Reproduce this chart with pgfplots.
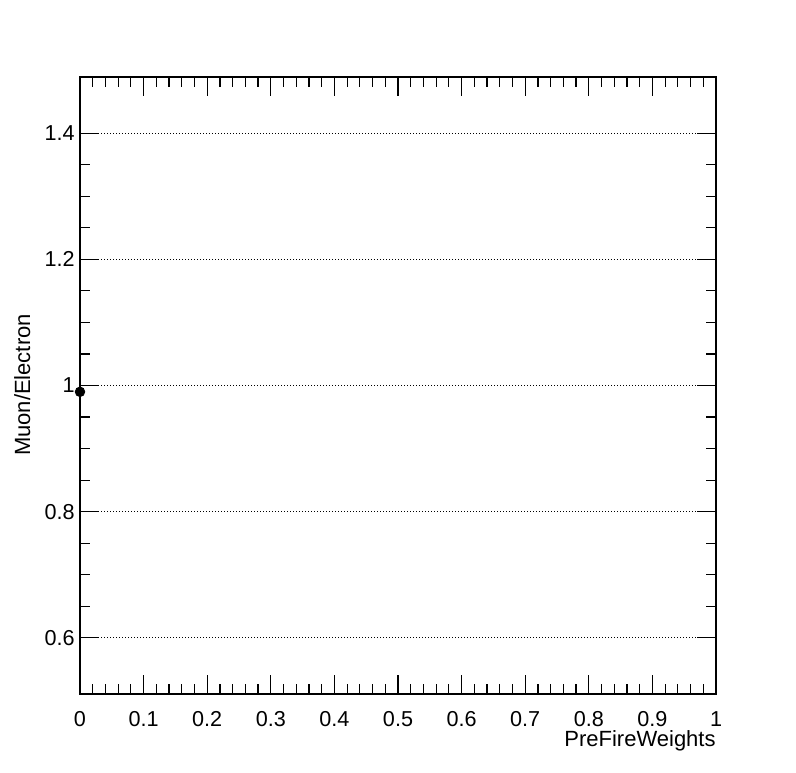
\documentclass[border=0pt]{standalone}
\usepackage{fontspec}
\setmainfont{Liberation Sans}
\usepackage{pgfplots}
\pgfplotsset{compat=1.18}
\begin{document}
\begin{tikzpicture}
\path[use as bounding box] (0,0) rectangle (398pt,386pt);
\begin{axis}[
  at={(40pt,39pt)}, anchor=south west,
  scale only axis, width=318pt, height=308.5pt,
  xmin=0, xmax=1, ymin=0.511, ymax=1.489,
  xtick={0,0.1,...,1.0001},
  ytick={0.6,0.8,1,1.2,1.4},
  minor x tick num=4, minor y tick num=3,
  tick align=inside, tick pos=both,
  major tick length=9.5pt, minor tick length=4.8pt,
  every tick/.style={black, line width=0.6pt},
  axis line style={line width=0.7pt},
  ymajorgrids,
  major grid style={black, line width=0.5pt, dash pattern=on 0.5pt off 1pt},
  font=\fontsize{10.8pt}{12pt}\selectfont,
  /pgf/number format/assume math mode=true,
  xticklabel style={anchor=base, inner sep=0pt, yshift=-16pt},
  yticklabel style={anchor=east, inner sep=0pt, xshift=-2.5pt},
  xlabel={PreFireWeights},
  xlabel style={font=\fontsize{11pt}{12pt}\selectfont, at={(rel axis cs:1,0)}, anchor=base east, inner sep=0pt, yshift=-26pt},
  clip=false,
]
\addplot[only marks, mark=*, mark size=2.4pt, black] coordinates {(0,0.99)};
\end{axis}
\node[rotate=90, anchor=base, inner sep=0pt, font=\fontsize{11pt}{12pt}\selectfont] at (15pt,193.5pt) {Muon/Electron};
\end{tikzpicture}
\end{document}
